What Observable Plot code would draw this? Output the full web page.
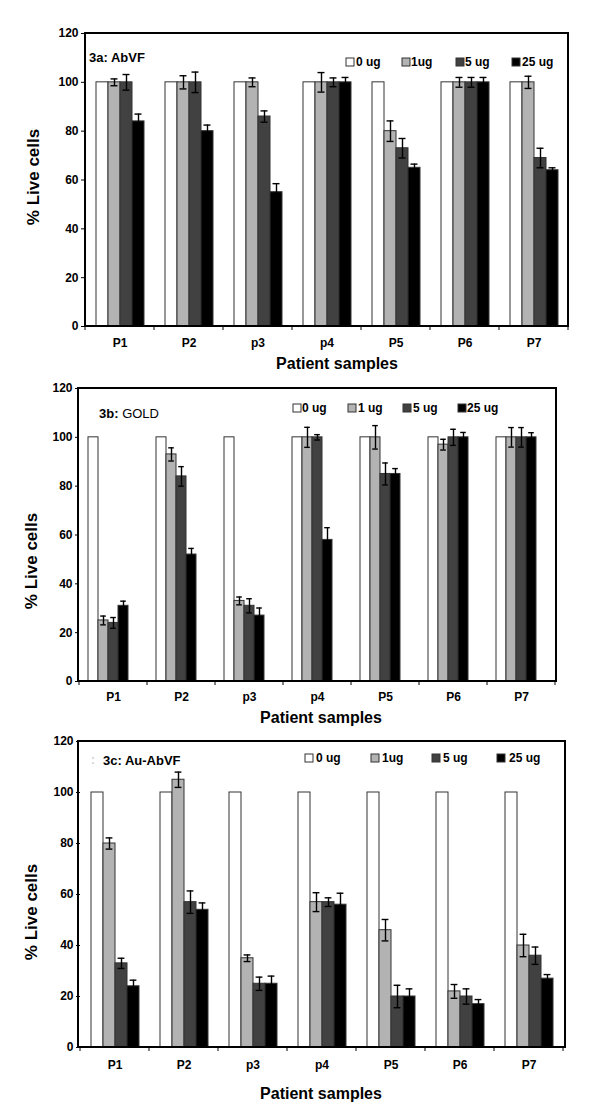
<!DOCTYPE html>
<html><head><meta charset="utf-8">
<script src="https://cdn.jsdelivr.net/npm/d3@7"></script>
<script src="https://cdn.jsdelivr.net/npm/@observablehq/plot@0.6"></script>
<style>
body{margin:0;background:#fff;font-family:"Liberation Sans",Arial,sans-serif;}
#chart{width:600px;}
#chart svg{display:block;}
</style></head><body><div id="chart"></div>
<script>
// ---- categories ----
const patients = ["P1","P2","p3","p4","P5","P6","P7"];
const series = ["0 ug","1 ug","5 ug","25 ug"];
const seriesColors = ["#ffffff","#b3b3b3","#414141","#000000"];
const yTicks = [0,20,40,60,80,100,120];

// ---- panel 3a: AbVF ----
const a0 = [100,100,100,100,100,100,100];
const a1 = [100,100,100,100,80,100,100];
const a5 = [100,100,86,100,73,100,69];
const a25 = [84,80,55,100,65,100,64];
const aErr1 = [1.4,2.7,1.8,4.0,4.2,2.0,2.5];
const aErr5 = [3.2,4.2,2.3,1.8,4.0,2.0,4.0];
const aErr25 = [3.0,2.5,3.5,2.0,1.5,2.0,1.0];
const aLegend = ["0 ug","1ug","5 ug","25 ug"];

// ---- panel 3b: GOLD ----
const b0 = [100,100,100,100,100,100,100];
const b1 = [25,93,33,100,100,97,100];
const b5 = [24,84,31,100,85,100,100];
const b25 = [31,52,27,58,85,100,100];
const bErr1 = [1.8,2.7,1.6,4.1,4.8,2.2,4.0];
const bErr5 = [2.2,4.0,2.9,1.1,4.5,3.3,4.0];
const bErr25 = [1.9,2.5,3.1,5.0,2.2,2.0,1.9];
const bLegend = ["0 ug","1 ug","5 ug","25 ug"];

// ---- panel 3c: Au-AbVF ----
const c0 = [100,100,100,100,100,100,100];
const c1 = [80,105,35,57,46,22,40];
const c5 = [33,57,25,57,20,20,36];
const c25 = [24,54,25,56,20,17,27];
const cErr1 = [2.2,3.0,1.3,3.7,4.2,2.7,4.4];
const cErr5 = [2.0,4.4,2.6,1.7,4.4,3.0,3.4];
const cErr25 = [2.4,2.7,3.0,4.5,3.0,1.8,1.6];
const cLegend = ["0 ug","1ug","5 ug","25 ug"];

const zeros = patients.map(() => 0);

function makeRows(vals, errs) {
  return patients.flatMap((p, i) => series.map((s, k) => ({patient: p, series: s, value: vals[k][i], err: errs[k][i]})));
}

const FONT = '"Liberation Sans", Arial, sans-serif';

function panel(cfg) {
  const rows = makeRows(cfg.vals, cfg.errs);
  const W = 600, H = cfg.height;
  const m = cfg.margin;
  const plot = Plot.plot({
    width: W, height: H,
    marginTop: m.top, marginRight: m.right, marginBottom: m.bottom, marginLeft: m.left,
    facet: {data: rows, x: "patient", marginTop: m.top, marginRight: m.right, marginBottom: m.bottom, marginLeft: m.left},
    fx: {domain: patients, padding: 0, axis: "bottom", tickSize: 0, tickPadding: cfg.fxPad, label: null},
    x: {domain: cfg.xDomain, axis: null, paddingInner: 0, paddingOuter: cfg.pad},
    y: {domain: [0, 120], ticks: yTicks, tickSize: 4, tickPadding: 3, label: null},
    color: {domain: series, range: seriesColors},
    style: {fontFamily: FONT, fontSize: "12px", fontWeight: "bold", color: "#000", background: "#fff"},
    marks: [
      Plot.barY(rows, {x: "series", y: "value", fill: "series", stroke: "#333", strokeWidth: 1}),
      Plot.ruleX(rows, {filter: d => d.err > 0, x: "series", y1: d => d.value - d.err, y2: d => d.value + d.err, stroke: "#000", strokeWidth: 1.4}),
      Plot.tickY(rows, {filter: d => d.err > 0, x: "series", y: d => d.value + d.err, stroke: "#000", strokeWidth: 1.4, insetLeft: cfg.capInset, insetRight: cfg.capInset}),
      Plot.tickY(rows, {filter: d => d.err > 0, x: "series", y: d => d.value - d.err, stroke: "#000", strokeWidth: 1.4, insetLeft: cfg.capInset, insetRight: cfg.capInset})
    ]
  });
  const svg = d3.select(plot);
  // plot frame
  svg.append("rect")
    .attr("x", m.left).attr("y", m.top)
    .attr("width", W - m.left - m.right).attr("height", H - m.top - m.bottom)
    .attr("fill", "none").attr("stroke", "#000").attr("stroke-width", 2);
  // category boundary ticks (Excel style)
  const fx = plot.scale("fx");
  const bounds = patients.map(p => fx.apply(p)).concat([fx.apply(patients[patients.length - 1]) + fx.bandwidth]);
  svg.append("g").selectAll("line").data(bounds).join("line")
    .attr("x1", d => d).attr("x2", d => d)
    .attr("y1", H - m.bottom).attr("y2", H - m.bottom + 4)
    .attr("stroke", "#000").attr("stroke-width", 1);
  // panel label
  const lab = svg.append("text").attr("x", cfg.label.x).attr("y", cfg.label.y).attr("dy", "0.35em")
    .attr("text-anchor", "start")
    .attr("font-family", FONT).attr("font-size", 13).attr("font-weight", "bold");
  lab.append("tspan").text(cfg.label.head);
  lab.append("tspan").attr("font-weight", cfg.label.tailWeight).text(cfg.label.tail);
  if (cfg.label.pre) {
    svg.append("text").attr("x", cfg.label.pre).attr("y", cfg.label.y).attr("dy", "0.35em")
      .attr("text-anchor", "start")
      .attr("font-family", FONT).attr("font-size", 12).attr("fill", "#d0d0d0").text(":");
  }
  // legend
  const lg = svg.append("g");
  cfg.legendText.forEach((t, k) => {
    lg.append("rect").attr("x", cfg.legend.sq[k]).attr("y", cfg.legend.y - 4).attr("width", 8).attr("height", 8)
      .attr("fill", seriesColors[k]).attr("stroke", "#333").attr("stroke-width", 1);
    lg.append("text").attr("x", cfg.legend.tx[k]).attr("y", cfg.legend.y).attr("dy", "0.35em")
      .attr("text-anchor", "start")
      .attr("font-family", FONT).attr("font-size", 12).attr("font-weight", "bold").text(t);
  });
  // axis titles
  svg.append("text").attr("transform", `translate(${cfg.yTitle.x},${cfg.yTitle.y}) rotate(-90)`)
    .attr("text-anchor", "middle").attr("dy", "0.35em")
    .attr("font-family", FONT).attr("font-size", 17).attr("font-weight", "bold").text("% Live cells");
  svg.append("text").attr("x", cfg.xTitle.x).attr("y", cfg.xTitle.y).attr("text-anchor", "middle").attr("dy", "0.35em")
    .attr("font-family", FONT).attr("font-size", 16).attr("font-weight", "bold").text("Patient samples");
  return plot;
}

const chart = document.getElementById("chart");
chart.append(panel({
  height: 375, margin: {top: 33, right: 32, bottom: 49, left: 85},
  vals: [a0, a1, a5, a25], errs: [zeros, aErr1, aErr5, aErr25],
  xDomain: series, pad: 0.74, capInset: 2.5, fxPad: 12,
  label: {head: "3a: ", tail: "AbVF", tailWeight: "bold", x: 89, y: 57},
  legendText: aLegend, legend: {sq: [346, 402, 456, 512], tx: [356, 411, 465, 522], y: 62},
  yTitle: {x: 33, y: 177}, xTitle: {x: 337, y: 363}
}));
chart.append(panel({
  height: 360, margin: {top: 13, right: 44, bottom: 54, left: 78},
  vals: [b0, b1, b5, b25], errs: [zeros, bErr1, bErr5, bErr25],
  xDomain: series.concat(["gap"]), pad: 0.67, capInset: 2.2, fxPad: 11,
  label: {head: "3b: ", tail: "GOLD", tailWeight: "normal", x: 99, y: 38},
  legendText: bLegend, legend: {sq: [293, 348, 403, 458], tx: [302, 358, 413, 467], y: 33},
  yTitle: {x: 31, y: 186}, xTitle: {x: 321, y: 342}
}));
chart.append(panel({
  height: 383, margin: {top: 6, right: 35, bottom: 71, left: 78},
  vals: [c0, c1, c5, c25], errs: [zeros, cErr1, cErr5, cErr25],
  xDomain: series, pad: 0.69, capInset: 2.6, fxPad: 13,
  label: {head: "3c: ", tail: "Au-AbVF", tailWeight: "bold", x: 103, y: 25, pre: 91},
  legendText: cLegend, legend: {sq: [305, 371, 432, 497], tx: [316, 382, 443, 509], y: 23},
  yTitle: {x: 31, y: 177}, xTitle: {x: 321, y: 358}
}));
</script></body></html>
